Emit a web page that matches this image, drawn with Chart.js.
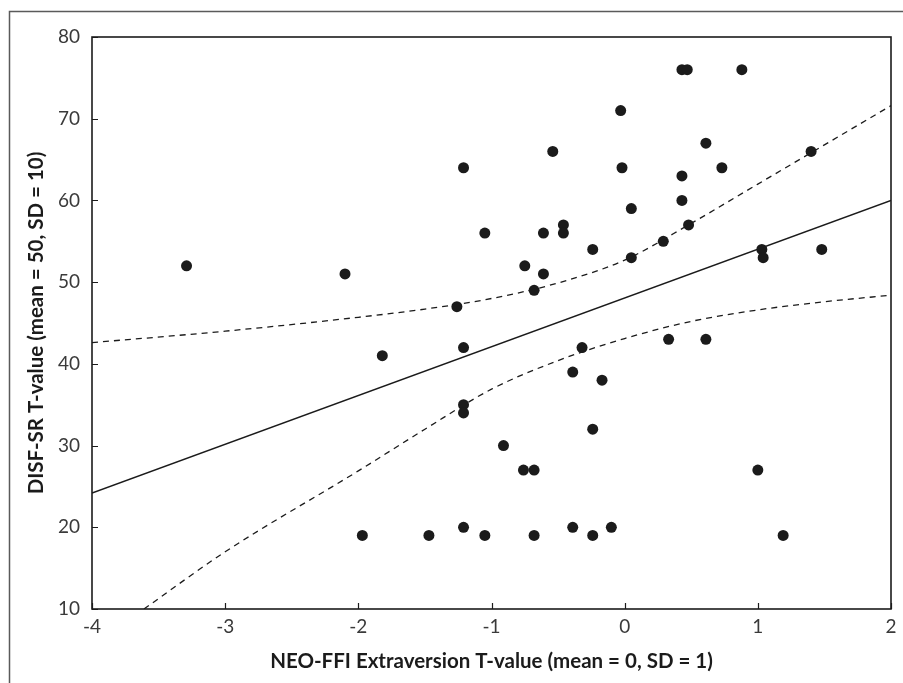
<!DOCTYPE html>
<html>
<head>
<meta charset="utf-8">
<script src="https://cdn.jsdelivr.net/npm/chart.js@4.4.1/dist/chart.umd.min.js"></script>
<style>
  html, body { margin: 0; padding: 0; background: #fff; }
  canvas { display: block; }
</style>
</head>
<body>
<canvas id="scatter" width="903" height="683"></canvas>
<script>
// ─── Data ─────────────────────────────────────────────────────────────────────
const xTicks = [-4, -3, -2, -1, 0, 1, 2];
const yTicks = [10, 20, 30, 40, 50, 60, 70, 80];

const extraversion = [
  -3.29, -2.10, -1.82, -1.97, -1.47, 0.43, 0.47, 0.88, -0.03, -0.54,
   0.61, -1.21, -0.02, 0.73, 1.40, 0.43, 0.43, 0.05, -0.46, -0.46,
  -1.05, -0.61, 0.48, -0.24, 0.29, -0.75, -0.61, 0.05, -0.68, -1.26,
   1.03, 1.04, 1.48, -1.21, -0.32, 0.33, 0.61, -0.39, -0.17, -1.21,
  -1.21, -0.24, -0.91, -0.76, -0.68, 1.00, -1.21, -1.05, -0.68, -0.39,
  -0.24, -0.10, 1.19
];
const disfScore = [
  52, 51, 41, 19, 19, 76, 76, 76, 71, 66,
  67, 64, 64, 64, 66, 63, 60, 59, 57, 56,
  56, 56, 57, 54, 55, 52, 51, 53, 49, 47,
  54, 53, 54, 42, 42, 43, 43, 39, 38, 35,
  34, 32, 30, 27, 27, 27, 20, 19, 19, 20,
  19, 20, 19
];

// regression line
const fitX = [-4, 2];
const fitY = [24.2, 60];

// confidence band (dashed)
const upperX    = [-4, -3, -2, -1.5, -1, -0.5, 0, 0.5, 1, 1.5, 2];
const upperBand = [42.6, 44.0, 45.7, 46.7, 48.0, 49.9, 52.7, 57.2, 62.0, 66.8, 71.6];
const lowerX    = [-3.61, -3, -2, -1.5, -1, -0.5, 0, 0.5, 1, 1.5, 2];
const lowerBand = [10, 17.0, 26.9, 32.0, 36.9, 40.4, 43.1, 45.2, 46.6, 47.6, 48.4];

const xTitle = 'NEO-FFI Extraversion T-value (mean = 0, SD = 1)';
const yTitle = 'DISF-SR T-value (mean = 50, SD = 10)';

// ─── Helpers ─────────────────────────────────────────────────────────────────
const pairs = (xs, ys) => xs.map((x, i) => ({ x, y: ys[i] }));

const INK   = '#1b1b1b';
const TICKC = '#3a3a3a';

// inward ticks, plot box and the outer frame
const framePlugin = {
  id: 'frame',
  afterDraw(chart) {
    const { ctx, chartArea: a, scales } = chart;
    ctx.save();
    ctx.strokeStyle = INK;
    ctx.lineWidth = 1.6;
    ctx.strokeRect(a.left, a.top, a.right - a.left, a.bottom - a.top);

    ctx.lineWidth = 1.2;
    ctx.beginPath();
    xTicks.forEach(v => {
      const px = Math.round(scales.x.getPixelForValue(v)) + 0.5;
      ctx.moveTo(px, a.bottom);
      ctx.lineTo(px, a.bottom - 6);
    });
    yTicks.forEach(v => {
      const py = Math.round(scales.y.getPixelForValue(v)) + 0.5;
      ctx.moveTo(a.left, py);
      ctx.lineTo(a.left + 6, py);
    });
    ctx.stroke();

    // outer frame runs off the right and bottom edges
    ctx.strokeStyle = '#5a5a5a';
    ctx.lineWidth = 1.5;
    ctx.beginPath();
    ctx.moveTo(9.5, chart.height + 2);
    ctx.lineTo(9.5, 11.5);
    ctx.lineTo(chart.width + 2, 11.5);
    ctx.stroke();
    ctx.restore();
  }
};

// ─── Chart ───────────────────────────────────────────────────────────────────
new Chart(document.getElementById('scatter').getContext('2d'), {
  type: 'scatter',
  data: {
    datasets: [
      {
        label: 'Subjects',
        data: pairs(extraversion, disfScore),
        backgroundColor: INK,
        borderColor: INK,
        borderWidth: 0,
        pointRadius: 5.5,
        pointHoverRadius: 5.5,
      },
      {
        label: 'Fit',
        data: pairs(fitX, fitY),
        showLine: true,
        borderColor: INK,
        borderWidth: 1.5,
        pointRadius: 0,
        fill: false,
      },
      {
        label: 'Upper',
        data: pairs(upperX, upperBand),
        showLine: true,
        borderColor: INK,
        borderWidth: 1.3,
        borderDash: [6, 5],
        pointRadius: 0,
        cubicInterpolationMode: 'monotone',
        fill: false,
      },
      {
        label: 'Lower',
        data: pairs(lowerX, lowerBand),
        showLine: true,
        borderColor: INK,
        borderWidth: 1.3,
        borderDash: [6, 5],
        pointRadius: 0,
        cubicInterpolationMode: 'monotone',
        fill: false,
      }
    ]
  },
  options: {
    responsive: false,
    animation: false,
    devicePixelRatio: 1,
    layout: { padding: { top: 37, right: 12, left: 0, bottom: 0 } },
    plugins: {
      legend: { display: false },
      tooltip: { enabled: false }
    },
    scales: {
      x: {
        type: 'linear',
        min: -4,
        max: 2,
        afterBuildTicks: s => { s.ticks = xTicks.map(v => ({ value: v })); },
        afterFit: s => { s.height = 74; },
        grid: { display: false, drawTicks: false },
        border: { display: false },
        ticks: {
          color: TICKC,
          padding: 6,
          font: { family: 'Lato', size: 19 },
          callback: v => String(v)
        },
        title: {
          display: true,
          text: xTitle,
          color: INK,
          padding: { top: 9, bottom: 9 },
          font: { family: 'Lato', size: 20.5, weight: 'bold' }
        }
      },
      y: {
        type: 'linear',
        min: 10,
        max: 80,
        afterBuildTicks: s => { s.ticks = yTicks.map(v => ({ value: v })); },
        afterFit: s => { s.width = 92; },
        grid: { display: false, drawTicks: false },
        border: { display: false },
        ticks: {
          color: TICKC,
          padding: 12,
          font: { family: 'Lato', size: 19 },
          callback: v => String(v)
        },
        title: {
          display: true,
          text: yTitle,
          color: INK,
          padding: { top: 24.5, bottom: 0 },
          font: { family: 'Lato', size: 20.5, weight: 'bold' }
        }
      }
    }
  },
  plugins: [framePlugin]
});
</script>
</body>
</html>
